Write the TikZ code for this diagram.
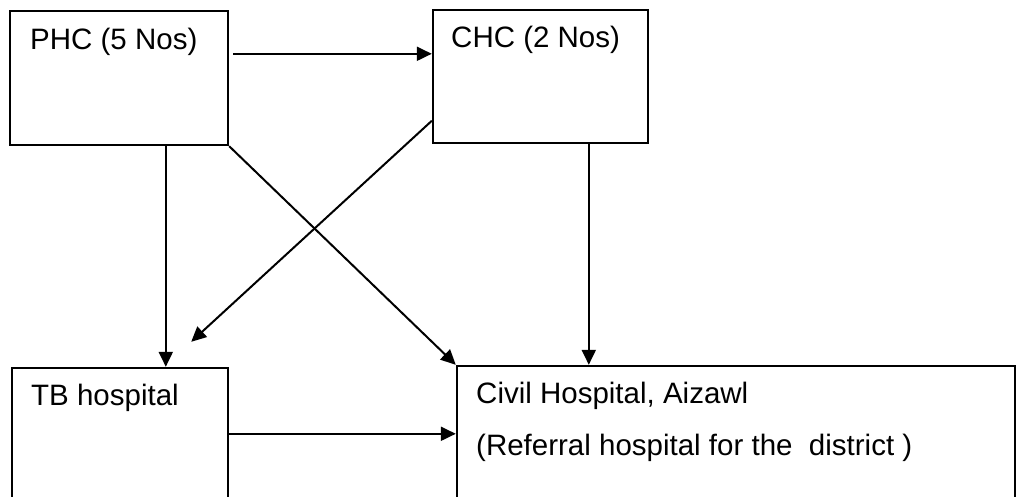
\documentclass[tikz,border=0pt]{standalone}
\usepackage{fontspec}
\setmainfont{Liberation Sans}
\usetikzlibrary{calc,arrows.meta}
\begin{document}
\begin{tikzpicture}[x=1pt,y=-1pt,
  box/.style={draw=black,line width=2.4pt,rectangle,inner sep=0pt,anchor=center},
  lbl/.style={anchor=base west,inner sep=0pt,font=\fontsize{29.5}{35}\selectfont},
  arr/.style={line width=2pt,-{Triangle[length=15pt,width=14pt]}}]
\useasboundingbox (0,0) rectangle (1021,497);
\clip (0,0) rectangle (1021,497);
\fill[white] (0,0) rectangle (1021,497);
% boxes
\node[box,minimum width=218pt,minimum height=134pt] (phc) at (119,78) {};
\node[box,minimum width=215pt,minimum height=133pt] (chc) at (540.5,76.5) {};
\node[box,minimum width=216pt,minimum height=152pt] (tb) at (120,444) {};
\node[box,minimum width=558pt,minimum height=154pt] (civ) at (736,443) {};
% labels
\node[lbl] (tphc) at (30,50) {PHC (5 Nos)};
\node[lbl] (tchc) at (451,48) {CHC (2 Nos)};
\node[lbl] (ttb) at (31,405) {TB hospital};
\node[lbl] (tciv1) at (476,403) {Civil Hospital, Aizawl};
\node[lbl] (tciv2) at (476,455) {(Referral hospital for the\ \ district )};
% connectors
\coordinate (p1) at ($(phc.north east)+(4,44)$);
\draw[arr] (p1) -- (p1 -| chc.west);
\coordinate (p2) at ($(phc.south west)+(157,0)$);
\draw[arr] (p2) -- (p2 |- tb.north);
\draw[arr] (phc.south east) -- (civ.north west);
\coordinate (c1) at ($(chc.north west)+(0,112)$);
\coordinate (tbin) at ($(tb.north east)+(-38,-25)$);
\draw[arr] (c1) -- (tbin);
\coordinate (c2) at ($(chc.south west)+(157,0)$);
\draw[arr] (c2) -- (c2 |- civ.north);
\coordinate (t1) at ($(tb.north east)+(0,67)$);
\draw[arr] (t1) -- (t1 -| civ.west);
\end{tikzpicture}
\end{document}
